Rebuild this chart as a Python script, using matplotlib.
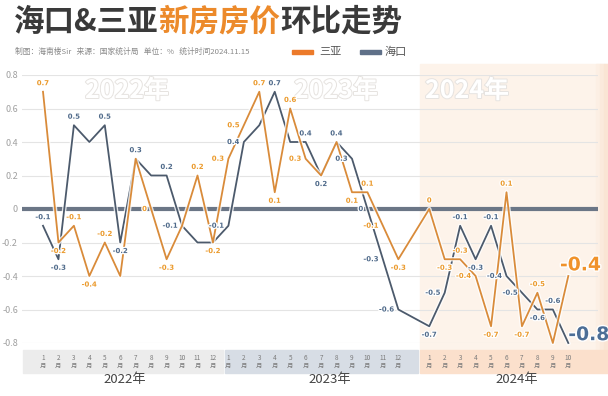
import matplotlib
matplotlib.use('Agg')
import matplotlib.pyplot as plt
import matplotlib.patheffects as pe
import matplotlib.transforms as mtrans
from matplotlib.patches import Rectangle
import numpy as np

plt.rcParams['font.family'] = ['Noto Sans CJK SC', 'DejaVu Sans']

# data (% month on month)
years = ['2022年', '2023年', '2024年']
months_per_year = [12, 12, 10]
sanya = [0.7, -0.2, -0.1, -0.4, -0.2, -0.4, 0.3, 0.0, -0.3, -0.1, 0.2, -0.2,
         0.3, 0.5, 0.7, 0.1, 0.6, 0.3, 0.2, 0.4, 0.1, 0.1, -0.1, -0.3,
         0.0, -0.3, -0.3, -0.4, -0.7, 0.1, -0.7, -0.5, -0.8, -0.4]
haikou = [-0.1, -0.3, 0.5, 0.4, 0.5, -0.2, 0.3, 0.2, 0.2, -0.1, -0.2, -0.2,
          -0.1, 0.4, 0.5, 0.7, 0.4, 0.4, 0.2, 0.4, 0.3, 0.0, -0.3, -0.6,
          -0.7, -0.5, -0.1, -0.3, -0.1, -0.4, -0.5, -0.6, -0.6, -0.8]
yticks = [-0.8, -0.6, -0.4, -0.2, 0, 0.2, 0.4, 0.6, 0.8]

# points without a value label in the original
sanya_skip = [5, 18, 32, 33]
haikou_skip = [3, 7, 10, 11, 14, 16, 33]

ORANGE = '#d98b3a'
ORANGE_TXT = '#eb9a2c'
SLATE = '#4c5a6c'
SLATE_TXT = '#4f6a8a'

# x positions: gap of one slot between 2023 and 2024 as in the picture
xs = []
pos = 0
for k, n in enumerate(months_per_year):
    xs += list(range(pos, pos + n))
    pos += n + (1 if k == 1 else 0)
xs = np.array(xs)

fig = plt.figure(figsize=(6.08, 3.96), dpi=100)
fig.patch.set_facecolor('white')

def fx(px):
    return px / 608
def fy(py):
    return 1 - py / 396

# axes: x index 0 -> px 43, 15.45 px per month; y 0.8 -> px 75, -0.8 -> px 343
ax = fig.add_axes([fx(22), fy(343), fx(598) - fx(22), fy(75) - fy(343)])
ax.set_xlim((22 - 43) / 15.45, (598 - 43) / 15.45)
ax.set_ylim(-0.8, 0.8)
ax.set_facecolor('none')
for s in ax.spines.values():
    s.set_visible(False)
ax.set_xticks([])
ax.set_yticks(yticks)
ax.set_yticklabels(['%g' % v for v in yticks], fontsize=6.5, color='#a0a0a0')
ax.tick_params(axis='y', length=0, pad=3)
for v in yticks:
    ax.axhline(v, color='#e4e4e4', lw=0.8, zorder=0)
ax.axhline(0, color='#6b7686', lw=3, zorder=2)

# background blocks (figure coords)
fig.patches.append(Rectangle((fx(420), fy(350)), fx(608) - fx(420), fy(64) - fy(350),
                             transform=fig.transFigure, color='#fdf3ea', zorder=-5))
for j, c in enumerate(['#fcefe4', '#fbeadc', '#fae5d4']):
    fig.patches.append(Rectangle((fx(596 + 4 * j), fy(350)), fx(4), fy(64) - fy(350),
                                 transform=fig.transFigure, color=c, zorder=-5))
box_cols = ['#ececec', '#d7dde5', '#fbe0cc']
box_x = [(23, 223), (225, 418), (420, 608)]
for (a, b), c in zip(box_x, box_cols):
    fig.patches.append(Rectangle((fx(a), fy(373)), fx(b) - fx(a), fy(350) - fy(373),
                                 transform=fig.transFigure, color=c, zorder=-4))

# watermark years
wm_x = [127, 336, 467]
for yr, px in zip(years, wm_x):
    fig.text(fx(px), fy(91), yr, fontsize=18, fontweight='bold', color='white',
             ha='center', va='center',
             path_effects=[pe.withStroke(linewidth=1.4, foreground='#e6e3e0')], zorder=-3)

# month labels and year names
mtr = mtrans.blended_transform_factory(ax.transData, fig.transFigure)
k = 0
for yi, n in enumerate(months_per_year):
    for m in range(1, n + 1):
        ax.text(xs[k], fy(361.5), '%d\n月' % m, transform=mtr,
                fontsize=4.6, color='#7a7a7a', ha='center', va='center', linespacing=1.0)
        k += 1
year_px = [125, 330, 517]
for yr, px in zip(years, year_px):
    fig.text(fx(px), fy(379), yr, fontsize=9.5, color='#444444', ha='center', va='center')

# lines
glow = [pe.Stroke(linewidth=3.2, foreground='white', alpha=0.8), pe.Normal()]
ax.plot(xs, haikou, color=SLATE, lw=1.3, zorder=4, path_effects=glow, clip_on=False)
ax.plot(xs, sanya, color=ORANGE, lw=1.3, zorder=5, path_effects=glow, clip_on=False)

def put_labels(vals, skip, color):
    for i, v in enumerate(vals):
        if i in skip:
            continue
        prev = vals[i - 1] if i > 0 else v - 1
        nxt = vals[i + 1] if i < len(vals) - 1 else v - 1
        if v >= prev and v >= nxt:
            off, va, ha = (0, 4), 'bottom', 'center'
        elif v <= prev and v <= nxt:
            off, va, ha = (0, -4), 'top', 'center'
        else:
            off, va, ha = (-3, 0), 'center', 'right'
        ax.annotate('%g' % v, (xs[i], v), xytext=off, textcoords='offset points',
                    fontsize=5, fontweight='bold', family='DejaVu Sans', color=color,
                    ha=ha, va=va, zorder=6,
                    path_effects=[pe.withStroke(linewidth=1.8, foreground='white')])

put_labels(sanya, sanya_skip, ORANGE_TXT)
put_labels(haikou, haikou_skip, SLATE_TXT)

# big end values
ax.annotate('%g' % sanya[-1], (xs[-1], sanya[-1]), xytext=(-6, 8), textcoords='offset points',
            fontsize=13.5, fontweight='bold', family='DejaVu Sans', color='#f0922a',
            ha='left', va='center', zorder=7,
            path_effects=[pe.withStroke(linewidth=2, foreground='white')])
ax.annotate('%g' % haikou[-1], (xs[-1], haikou[-1]), xytext=(0, 6), textcoords='offset points',
            fontsize=13.5, fontweight='bold', family='DejaVu Sans', color='#4d6e96',
            ha='left', va='center', zorder=7,
            path_effects=[pe.withStroke(linewidth=2, foreground='white')])

# title, three colour runs side by side
title_parts = [('海口&三亚', '#3a3a3a'), ('新房房价', '#ec8a2b'), ('环比走势', '#3a3a3a')]
x0 = fx(14)
renderer = fig.canvas.get_renderer()
for txt, col in title_parts:
    t = fig.text(x0, fy(22), txt, fontsize=22, fontweight='black',
                 color=col, ha='left', va='center')
    bb = t.get_window_extent(renderer=renderer)
    x0 = bb.x1 / (fig.dpi * 6.08)

fig.text(fx(15), fy(52), '制图：海南楼Sir   来源：国家统计局   单位：%   统计时间2024.11.15',
         fontsize=5.6, color='#8a8a8a', ha='left', va='center')
fig.patches.append(Rectangle((fx(292), fy(54)), fx(21), fy(50) - fy(54),
                             transform=fig.transFigure, color='#ec7a2a'))
fig.text(fx(319), fy(52), '三亚', fontsize=8, color='#555555', ha='left', va='center')
fig.patches.append(Rectangle((fx(360), fy(54)), fx(21), fy(50) - fy(54),
                             transform=fig.transFigure, color='#5f7088'))
fig.text(fx(385), fy(52), '海口', fontsize=8, color='#555555', ha='left', va='center')

fig.savefig('out.png', dpi=100, facecolor=fig.get_facecolor())
